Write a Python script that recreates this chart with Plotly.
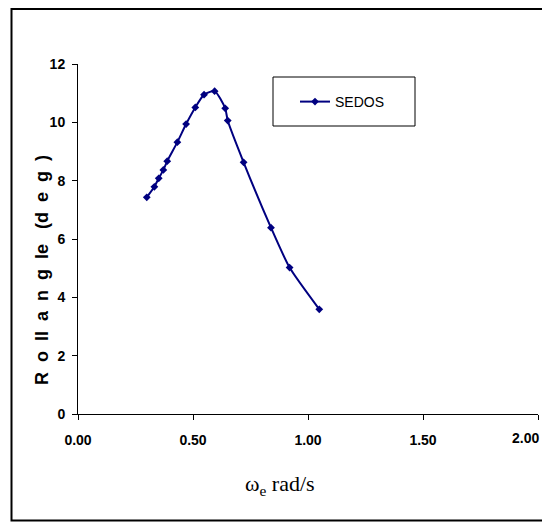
import plotly.graph_objects as go

omega = [0.299, 0.332, 0.351, 0.371, 0.388, 0.432, 0.470, 0.510, 0.548, 0.594,
         0.640, 0.651, 0.720, 0.839, 0.920, 1.049]
roll = [7.43, 7.79, 8.08, 8.37, 8.67, 9.32, 9.94, 10.51, 10.95, 11.07,
        10.48, 10.06, 8.63, 6.39, 5.02, 3.59]
x_ticks = [0, 0.5, 1.0, 1.5, 2.0]
x_ticklabels = ["0.00", "0.50", "1.00", "1.50", "2.00"]
y_ticks = [0, 2, 4, 6, 8, 10, 12]

# figure sits inside the page body (8px default margin)
W, H = 542, 514
L, R, T, B = 70, 12, 56, 108
pw, ph = W - L - R, H - T - B  # 460 x 350

def px2x(px):  # page pixel -> paper
    return (px - 78) / pw

def px2y(py):
    return (414 - py) / ph

navy = "#000080"
sans = "Liberation Sans, Arial"
tickfont = dict(family=sans, size=14, color="black", weight="bold")

nb = "\u00a0"
gap = nb * 2
ytitle = gap.join(["R", "o", "ll", "a", "n", "g", "le"]) + nb * 3 + gap.join(["(d", "e", "g", ")"])

# last x tick label is drawn right-aligned at its tick so it stays visible at the page edge
shown_ticktext = x_ticklabels[:-1] + [""]

fig = go.Figure()
fig.add_trace(go.Scatter(
    x=omega, y=roll, mode="lines+markers", name="SEDOS",
    line=dict(color=navy, width=2, shape="spline", smoothing=0.6),
    marker=dict(symbol="diamond", size=6, color=navy),
))

fig.update_layout(
    width=W, height=H,
    margin=dict(l=L, r=R, t=T, b=B, pad=0, autoexpand=False),
    paper_bgcolor="white", plot_bgcolor="white",
    showlegend=True,
    legend=dict(x=px2x(295), y=px2y(102), xanchor="left", yanchor="middle",
                bgcolor="rgba(0,0,0,0)", borderwidth=0,
                font=dict(family=sans, size=14, color="black")),
    xaxis=dict(range=[0, 2], tickvals=x_ticks, ticktext=shown_ticktext, automargin=False,
               showgrid=False, zeroline=False, showline=True, linecolor="black", linewidth=1,
               ticks="outside", ticklen=5, tickcolor="black", tickfont=tickfont,
               ticklabelstandoff=8, ticklabeloverflow="allow"),
    yaxis=dict(range=[0, 12], tickvals=y_ticks, automargin=False,
               showgrid=False, zeroline=False, showline=True, linecolor="black", linewidth=1,
               ticks="outside", ticklen=5, tickcolor="black", tickfont=tickfont,
               ticklabelstandoff=4, ticklabeloverflow="allow"),
    shapes=[
        dict(type="rect", xref="paper", yref="paper",
             x0=px2x(273), x1=px2x(415), y0=px2y(126), y1=px2y(77),
             line=dict(color="black", width=1), fillcolor="rgba(0,0,0,0)"),
        dict(type="rect", xref="paper", yref="paper",
             x0=px2x(11.5), x1=px2x(580), y0=px2y(520.5), y1=px2y(9),
             line=dict(color="black", width=2), fillcolor="rgba(0,0,0,0)", layer="below"),
    ],
    annotations=[
        dict(text=x_ticklabels[-1], xref="x", yref="paper",
             x=x_ticks[-1], y=px2y(438), xanchor="right", yanchor="middle",
             xshift=3, showarrow=False, font=tickfont),
        dict(text=ytitle, xref="paper", yref="paper",
             x=px2x(42), y=px2y(270), xanchor="center", yanchor="middle",
             showarrow=False, textangle=-90,
             font=dict(family=sans, size=18, color="black", weight="bold")),
        dict(text="ω<sub>e</sub> rad/s", xref="paper", yref="paper",
             x=px2x(280), y=px2y(485), xanchor="center", yanchor="middle", showarrow=False,
             font=dict(family="Liberation Serif, Times New Roman", size=22, color="black")),
    ],
)

fig.write_html("out.html")
